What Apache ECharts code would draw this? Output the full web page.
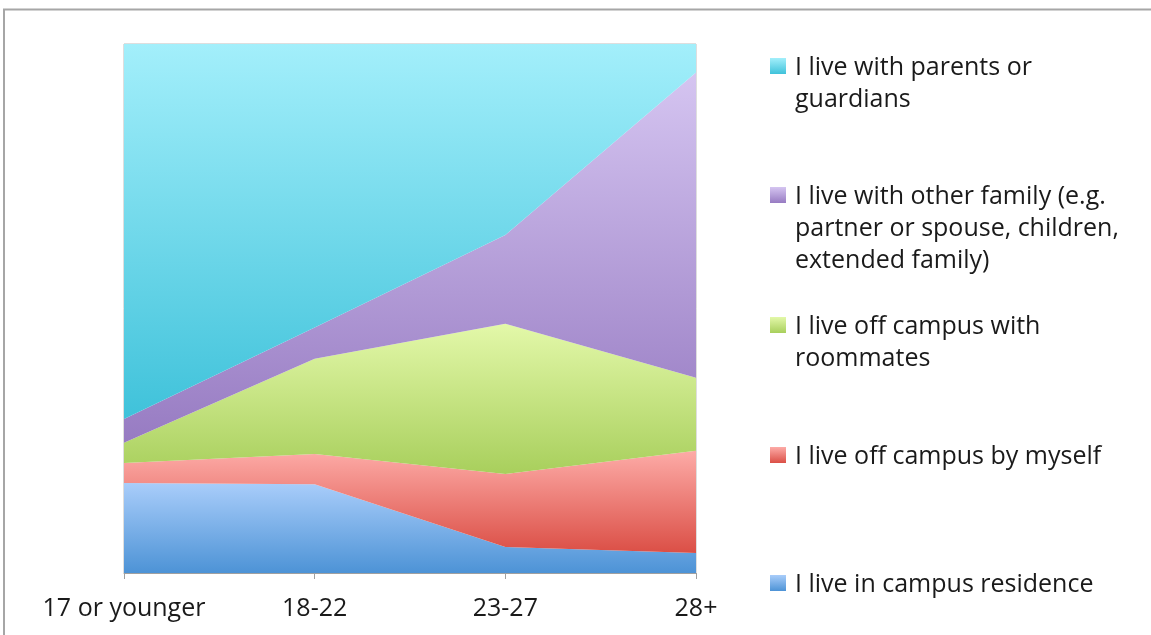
<!DOCTYPE html>
<html>
<head>
<meta charset="utf-8">
<script src="https://cdn.jsdelivr.net/npm/echarts@6/dist/echarts.min.js"></script>
<style>
html,body{margin:0;padding:0;background:#fff;}
#chart{width:1151px;height:635px;}
</style>
</head>
<body>
<div id="chart"></div>
<script>
// Categories (age groups)
var categories = ['17 or younger', '18-22', '23-27', '28+'];

// Series names (bottom of stack first)
var seriesNames = [
  'I live in campus residence',
  'I live off campus by myself',
  'I live off campus with roommates',
  'I live with other family (e.g. partner or spouse, children, extended family)',
  'I live with parents or guardians'
];

// Legend labels as wrapped in the reference
var legendLabels = [
  'I live in campus residence',
  'I live off campus by myself',
  'I live off campus with\nroommates',
  'I live with other family (e.g.\npartner or spouse, children,\nextended family)',
  'I live with parents or\nguardians'
];

// Percent values per series
var campusResidence = [17.0, 16.8, 4.9, 3.8];
var offCampusAlone  = [3.8, 5.7, 13.8, 19.3];
var offCampusRoom   = [3.8, 18.0, 28.4, 13.8];
var otherFamily     = [4.5, 5.9, 16.8, 57.7];
var withParents     = [70.9, 53.6, 36.1, 5.4];

var seriesValues = [campusResidence, offCampusAlone, offCampusRoom, otherFamily, withParents];

// Gradient colours (top, bottom)
var gradTop    = ['#a9cdfa', '#fdaba7', '#e3f8a9', '#d5c5f1', '#a3effb'];
var gradBottom = ['#4d93d6', '#db4f46', '#a8cf5c', '#977bc2', '#3fc2da'];

var FONT = '"Open Sans"';

function grad(i) {
  return new echarts.graphic.LinearGradient(0, 0, 0, 1, [
    {offset: 0, color: gradTop[i]},
    {offset: 1, color: gradBottom[i]}
  ]);
}

var chart = echarts.init(document.getElementById('chart'), null, {renderer: 'canvas'});

var series = seriesNames.map(function (name, i) {
  return {
    name: name,
    type: 'line',
    stack: 'total',
    data: seriesValues[i],
    symbol: 'none',
    smooth: false,
    lineStyle: {width: 0, opacity: 0},
    areaStyle: {color: grad(i), opacity: 1},
    silent: true,
    z: 2
  };
});

// Legend drawn as graphic (marker aligned with first line of text)
var legendTop = [583, 455, 325, 195, 66]; // centre y of first line, per series index
var graphics = [{
  type: 'rect',
  shape: {x: 4, y: 9.5, width: 1200, height: 700},
  style: {fill: 'none', stroke: '#a6a6a6', lineWidth: 2},
  silent: true,
  z: 0
}];
seriesNames.forEach(function (name, i) {
  graphics.push({
    type: 'rect',
    shape: {x: 770, y: legendTop[i] - 8, width: 16, height: 16},
    style: {fill: grad(i)},
    silent: true
  });
  graphics.push({
    type: 'text',
    x: 795,
    y: legendTop[i] - 14,
    style: {
      text: legendLabels[i],
      font: '25px ' + FONT,
      fill: '#1a1a1a',
      lineHeight: 32,
      textVerticalAlign: 'top'
    },
    silent: true
  });
});

chart.setOption({
  animation: false,
  backgroundColor: '#ffffff',
  grid: {
    left: 124, right: 455, top: 44, bottom: 62,
    show: true, borderColor: '#bdbdbd', borderWidth: 1, backgroundColor: 'transparent'
  },
  xAxis: {
    type: 'category',
    data: categories,
    boundaryGap: false,
    axisLine: {show: true, lineStyle: {color: '#a0a0a0', width: 1}},
    axisTick: {show: true, length: 6, alignWithLabel: true, lineStyle: {color: '#a0a0a0'}},
    axisLabel: {color: '#1a1a1a', fontSize: 25, fontFamily: 'Open Sans', margin: 23, interval: 0},
    splitLine: {show: false}
  },
  yAxis: {
    type: 'value',
    min: 0, max: 100, interval: 20,
    axisLine: {show: false},
    axisTick: {show: false},
    axisLabel: {show: false},
    splitLine: {show: false}
  },
  series: series,
  graphic: graphics
});
</script>
</body>
</html>
